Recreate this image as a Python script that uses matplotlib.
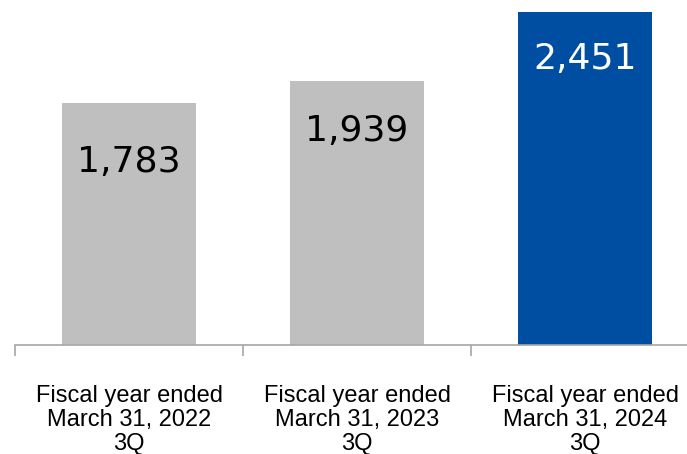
import matplotlib.pyplot as plt

# data
categories = ['Fiscal year ended\nMarch 31, 2022\n3Q',
              'Fiscal year ended\nMarch 31, 2023\n3Q',
              'Fiscal year ended\nMarch 31, 2024\n3Q']
values = [1783, 1939, 2451]
colors = ['#bfbfbf', '#bfbfbf', '#004ea2']
label_colors = ['black', 'black', 'white']
# how far below the bar top each value label sits (points)
label_drop = [43, 36, 34]

W, H = 687, 454
fig = plt.figure(figsize=(W / 100, H / 100), dpi=100)
# axes runs a bit past the right edge of the figure, like the original
ax = fig.add_axes([15 / W, (H - 345) / H, 684 / W, 345 / H])

x = range(len(values))
ax.bar(x, values, width=0.588, color=colors, zorder=2)

for i, v in enumerate(values):
    ax.annotate('{:,}'.format(v), (i, v), xytext=(0, -label_drop[i]), textcoords='offset points',
                ha='center', va='center', fontsize=26, color=label_colors[i],
                family='DejaVu Sans')

ax.set_xlim(-0.5, len(values) - 0.5)
ax.set_ylim(0, 2537)

for s in ['top', 'right', 'left']:
    ax.spines[s].set_visible(False)
ax.spines['bottom'].set_color('#a6a6a6')
ax.spines['bottom'].set_linewidth(1.2)

ax.set_yticks([])
ax.set_xticks(list(x))
ax.set_xticklabels(categories, fontsize=17, family='Liberation Sans', linespacing=1.12)
ax.tick_params(axis='x', which='major', length=0, pad=29)
ax.set_xticks([-0.5, 0.5, 1.5], minor=True)
ax.tick_params(axis='x', which='minor', length=8, color='#a6a6a6', width=1.2)

fig.savefig('out.png', dpi=100)
